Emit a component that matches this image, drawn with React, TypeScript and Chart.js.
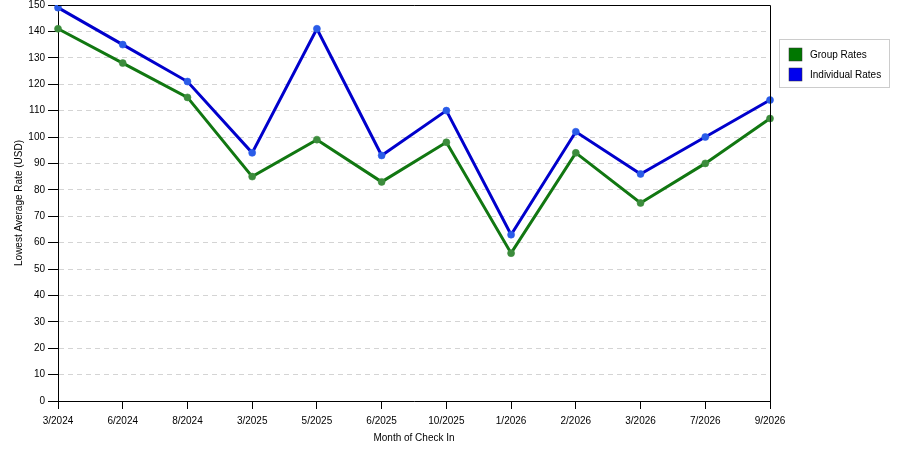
import React, { useEffect, useRef } from "react";
import { Chart, registerables } from "chart.js";

Chart.register(...registerables);

const months = ["3/2024", "6/2024", "8/2024", "3/2025", "5/2025", "6/2025", "10/2025", "1/2026", "2/2026", "3/2026", "7/2026", "9/2026"];
const groupRates = [141, 128, 115, 85, 99, 83, 98, 56, 94, 75, 90, 107];
const individualRates = [149, 135, 121, 94, 141, 93, 110, 63, 102, 86, 100, 114];
const seriesNames = ["Group Rates", "Individual Rates"];
const legendColors = ["#007700", "#0000ee"];

const FONT = "'Liberation Sans', Arial, sans-serif";

const framePlugin = {
  id: "frame",
  afterDraw(chart: any) {
    const { ctx, chartArea } = chart;
    ctx.save();
    ctx.strokeStyle = "#000";
    ctx.lineWidth = 1;
    ctx.beginPath();
    ctx.moveTo(chartArea.left, chartArea.top + 0.5);
    ctx.lineTo(chartArea.right + 0.5, chartArea.top + 0.5);
    ctx.lineTo(chartArea.right + 0.5, chartArea.bottom);
    ctx.stroke();
    // legend
    const lx = 779.5, ly = 39.5, lw = 110, lh = 48;
    ctx.strokeStyle = "#cccccc";
    ctx.fillStyle = "#fff";
    ctx.fillRect(lx, ly, lw, lh);
    ctx.strokeRect(lx, ly, lw, lh);
    ctx.font = "10px " + FONT;
    ctx.textBaseline = "middle";
    chart.data.datasets.forEach((ds: any, i: number) => {
      const cy = 54 + i * 20;
      ctx.fillStyle = legendColors[i];
      ctx.fillRect(789, cy - 6, 13, 13);
      ctx.strokeStyle = "#333";
      ctx.lineWidth = 0.5;
      ctx.strokeRect(789, cy - 6, 13, 13);
      ctx.fillStyle = "#000";
      ctx.fillText(ds.label, 810, cy + 1);
    });
    ctx.restore();
  },
};

export default function App() {
  const ref = useRef<HTMLCanvasElement>(null);
  useEffect(() => {
    if (!ref.current) return;
    const chart = new Chart(ref.current, {
      type: "line",
      data: {
        labels: months,
        datasets: [
          {
            label: seriesNames[0],
            data: groupRates,
            borderColor: "#117711",
            backgroundColor: "#3c8c3c",
            pointBackgroundColor: "#3c8c3c",
            pointBorderColor: "rgba(60,140,60,0.6)",
            borderWidth: 3,
            pointRadius: 3.5,
            pointBorderWidth: 1,
            tension: 0,
          },
          {
            label: seriesNames[1],
            data: individualRates,
            borderColor: "#0000cc",
            backgroundColor: "#2a5ce8",
            pointBackgroundColor: "#2a5ce8",
            pointBorderColor: "rgba(42,92,232,0.6)",
            borderWidth: 3,
            pointRadius: 3.5,
            pointBorderWidth: 1,
            tension: 0,
          },
        ],
      },
      options: {
        animation: false,
        responsive: false,
        devicePixelRatio: 1,
        layout: { padding: { left: 0, right: 130, top: 4, bottom: 0 } },
        plugins: { legend: { display: false }, tooltip: { enabled: false } },
        scales: {
          x: {
            type: "category",
            offset: false,
            grid: { drawOnChartArea: false, drawTicks: true, tickLength: 8, tickColor: "#000" },
            border: { color: "#000", width: 1 },
            ticks: { color: "#000", font: { family: FONT, size: 10 }, maxRotation: 0, autoSkip: false, padding: 6 },
            title: { display: true, text: "Month of Check In", color: "#000", font: { family: FONT, size: 10 }, padding: { top: 4, bottom: 6 } },
            afterFit: (s: any) => { s.height = 49; s.paddingLeft = 0; s.paddingRight = 0; },
          },
          y: {
            min: 0,
            max: 150,
            ticks: { stepSize: 10, color: "#000", font: { family: FONT, size: 10 }, padding: 3 },
            grid: {
              color: "#d4d4d4",
              tickBorderDash: [],
              tickColor: "#000",
              tickLength: 10,
              drawTicks: true,
            },
            border: { color: "#000", width: 1, dash: [5, 4] },
            title: { display: true, text: "Lowest Average Rate (USD)", color: "#000", font: { family: FONT, size: 10 }, padding: { top: 13, bottom: 0 } },
            afterFit: (s: any) => { s.width = 58; s.paddingTop = 0; s.paddingBottom = 0; },
          },
        },
      },
      plugins: [framePlugin],
    } as any);
    return () => chart.destroy();
  }, []);
  return (
    <div style={{ position: "fixed", left: 0, top: 0, width: 900, height: 450, background: "#fff" }}>
      <canvas ref={ref} width={900} height={450} style={{ width: 900, height: 450, display: "block" }} />
    </div>
  );
}
